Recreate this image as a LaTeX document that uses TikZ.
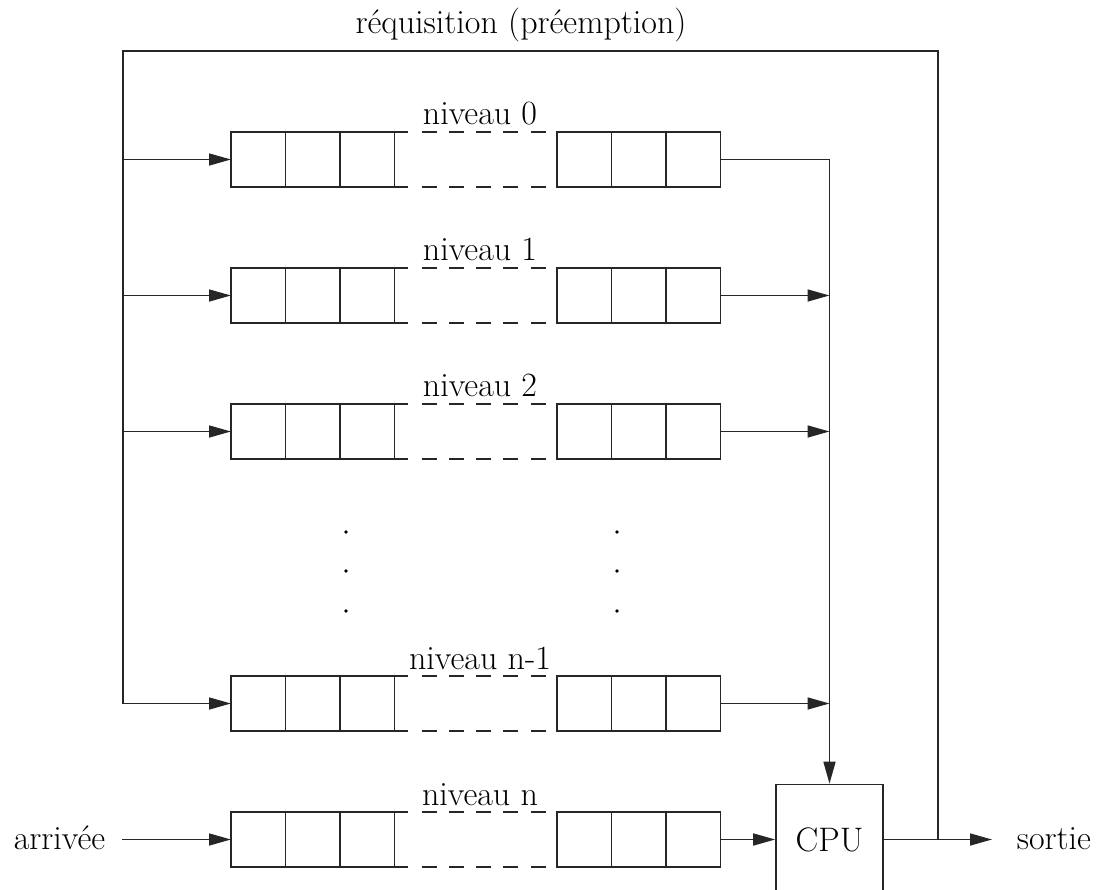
\documentclass[tikz,border=0pt]{standalone}
\usepackage{fontspec}
\usetikzlibrary{arrows.meta}
\newcommand\mkqueue[3]{%
  \node[cell] (#1a) at (231,#2) {};
  \node[cell] (#1b) at (#1a.north east) {};
  \node[cell] (#1c) at (#1b.north east) {};
  \node[cell] (#1d) at (557,#2) {};
  \node[cell] (#1e) at (#1d.north east) {};
  \node[cell] (#1f) at (#1e.north east) {};
  \draw (#1c.north east) -- ++(13,0);
  \draw (#1c.south east) -- ++(13,0);
  \draw[dash pattern=on 15pt off 12.25pt] ([xshift=27pt]#1c.north east) -- ([xshift=-11pt]#1d.north west);
  \draw[dash pattern=on 15pt off 12.25pt] ([xshift=27pt]#1c.south east) -- ([xshift=-11pt]#1d.south west);
  \node[lbl, anchor=base] (#1l) at (480,#2-7) {niveau #3};
}
\begin{document}
\begin{tikzpicture}[x=1pt,y=-1pt, line width=1.6pt, draw=black!85,
  cell/.style={draw, rectangle, minimum width=54.5pt, minimum height=55pt, inner sep=0pt, outer sep=0pt, anchor=north west},
  lbl/.style={font=\fontsize{34}{40}\selectfont, inner sep=0pt},
  arr/.style={-{Triangle[length=22pt,width=12pt]}}]
\useasboundingbox (0,0) rectangle (1096,890);

\node[lbl, anchor=base] (title) at (521,34) {réquisition (préemption)};

\mkqueue{q0}{132}{0}
\mkqueue{q1}{268}{1}
\mkqueue{q2}{404}{2}
\mkqueue{qm}{676}{n-1}
\mkqueue{qn}{812}{n}

\node[draw, lbl, minimum width=107pt, minimum height=110pt] (cpu) at (829.5,839.5) {CPU};
\node[lbl, anchor=base east, inner xsep=16pt] (arrivee) at (122,849) {arrivée};
\node[lbl, anchor=base west, inner xsep=24pt] (sortie) at (992,849) {sortie};

\coordinate (tl) at (123,51);
\coordinate (tr) at (938,51);
\coordinate (j) at (938,839.5);

% output and feedback
\draw[arr] (cpu.east) -- (cpu.east -| sortie.west);
\draw (j) -- (tr) -- (tl) -- (tl |- qma.west);

% left feeds
\foreach \q in {q0,q1,q2,qm}{
  \draw[arr] (tl |- \q a.west) -- (\q a.west);
}
\draw[arr] (arrivee.east |- qna.west) -- (qna.west);

% right collectors
\draw[arr] (q0f.east) -- (q0f.east -| cpu.north) -- (cpu.north);
\foreach \q in {q1,q2,qm}{
  \draw[arr] (\q f.east) -- (\q f.east -| cpu.north);
}
\draw[arr] (qnf.east) -- (qnf.east -| cpu.west);

% ellipsis dots
\foreach \x in {346,617}{
  \foreach \y in {532,571,611}{
    \fill (\x,\y) circle (1.8pt);
  }
}
\end{tikzpicture}
\end{document}
